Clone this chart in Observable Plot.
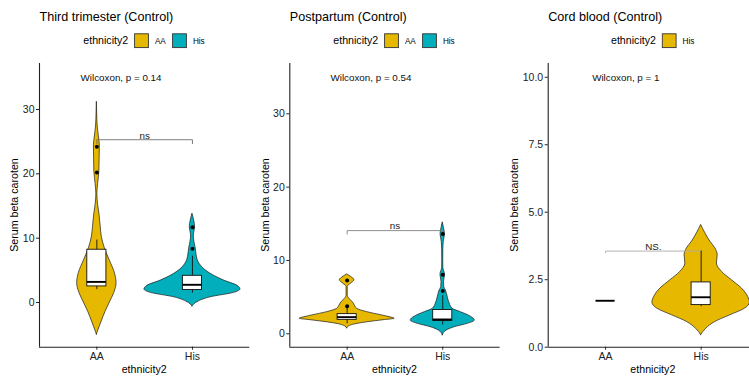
<!DOCTYPE html>
<html><head><meta charset="utf-8">
<script src="https://cdn.jsdelivr.net/npm/d3@7"></script>
<script src="https://cdn.jsdelivr.net/npm/@observablehq/plot@0.6"></script>
<style>
html,body{margin:0;padding:0;background:#fff;overflow:hidden}
#wrap{position:relative;width:749px;height:377px;overflow:hidden;font-family:"Liberation Sans",Arial,sans-serif}
.panel{position:absolute;top:0;height:377px}
.panel svg{max-width:none !important}
</style></head><body><div id="wrap"></div>
<script>
const FONT = '"Liberation Sans", Arial, sans-serif';
const categories = ["AA", "His"];
const yellow = "#E7B800", teal = "#00AFBB";
const titles = ["Third trimester (Control)", "Postpartum (Control)", "Cord blood (Control)"];
const legendTitle = "ethnicity2";
const axisTitleX = "ethnicity2";
const axisTitleY = "Serum beta caroten";

// violin profiles: y value and half-width (in category units)
const p1AA_y = [-5.0,-4.2,-3.1,-1.5,0.0,1.5,3.0,4.6,6.5,8.4,10.2,11.8,13.5,15.2,16.8,18.4,20.3,22.3,24.4,25.8,27.5,29.5,31.2];
const p1AA_w = [0,0.019,0.047,0.089,0.136,0.183,0.206,0.188,0.136,0.084,0.052,0.040,0.029,0.013,0.005,0.013,0.026,0.029,0.031,0.021,0.008,0.003,0];
const p1His_y = [-0.6,0.05,0.8,1.5,2.0,2.6,3.4,4.2,5.2,6.3,7.3,8.35,9.4,10.4,11.7,12.75,13.8];
const p1His_w = [0,0.052,0.188,0.436,0.502,0.471,0.332,0.220,0.122,0.063,0.044,0.035,0.021,0.014,0.028,0.018,0];
const p2AA_y = [0.75,1.0,1.25,1.55,1.85,2.05,2.25,2.5,2.95,3.4,3.85,4.3,4.75,5.2,6.4,6.8,7.3,7.8,8.1];
const p2AA_w = [0,0.02,0.07,0.2,0.38,0.497,0.45,0.366,0.21,0.105,0.08,0.06,0.024,0.006,0.006,0.037,0.076,0.037,0];
const p2His_y = [-0.2,0.45,0.9,1.36,1.8,2.5,2.97,3.4,4.1,5.0,5.9,6.36,7.05,8.05,9.0,10.0,11.5,12.5,13.6,14.4,15.2];
const p2His_w = [0,0.042,0.126,0.262,0.335,0.27,0.183,0.105,0.073,0.052,0.033,0.016,0.013,0.024,0.006,0.005,0.006,0.010,0.023,0.013,0];
const p3His_y = [0.45,0.68,0.93,1.18,1.43,1.65,1.86,2.17,2.48,2.79,3.1,3.41,3.66,3.91,4.22,4.53];
const p3His_w = [0,0.052,0.146,0.303,0.460,0.510,0.492,0.427,0.322,0.218,0.165,0.173,0.149,0.096,0.044,0];

// box stats [lo, q1, median, q3, hi]
const p1AA_box = [2.0, 2.5, 3.2, 8.2, 9.7];
const p1His_box = [1.45, 1.95, 2.75, 4.15, 7.2];
const p2AA_box = [1.36, 1.9, 2.27, 2.68, 3.5];
const p2His_box = [1.2, 1.75, 1.95, 3.25, 5.2];
const p3AA_box = [1.72, 1.72, 1.72, 1.72, 1.72];
const p3His_box = [1.5, 1.56, 1.85, 2.4, 3.56];

// outliers
const p1AA_out = [24.2, 20.2];
const p1His_out = [11.7, 8.35];
const p2AA_out = [7.27, 3.77];
const p2His_out = [13.6, 8.05, 5.85];

// annotations
const wilcoxLabels = ["Wilcoxon, p = 0.14", "Wilcoxon, p = 0.54", "Wilcoxon, p = 1"];
const wilcoxX = [0.83, 0.826, 0.86];
const wilcoxY = [34.87, 34.86, 9.96];
const bracketY = [25.3, 14.07, 3.56];
const bracketTip = [24.7, 13.6, 3.5];
const bracketLabels = ["ns", "ns", "NS."];
const bracketColors = ["#6e6e6e", "#808080", "#aaaaaa"];

const yTicks = [[0,10,20,30],[0,10,20,30],[0,2.5,5,7.5,10]];
const yDomains = [[-6.95, 37.15], [-1.83, 36.86], [0, 10.51]];

const panels = [
  {left: 0, width: 250, ml: 39, mr: 0.7, fmt: d => d,
   violins: [{g:"AA", y:p1AA_y, w:p1AA_w, fill:yellow}, {g:"His", y:p1His_y, w:p1His_w, fill:teal}],
   boxes: [{g:"AA", s:p1AA_box}, {g:"His", s:p1His_box}],
   outliers: [{g:"AA", v:p1AA_out}, {g:"His", v:p1His_out}],
   legend: [{label:"AA", fill:yellow}, {label:"His", fill:teal}], legendX: 83.3},
  {left: 250, width: 250, ml: 39.3, mr: 0.4, fmt: d => d,
   violins: [{g:"AA", y:p2AA_y, w:p2AA_w, fill:yellow}, {g:"His", y:p2His_y, w:p2His_w, fill:teal}],
   boxes: [{g:"AA", s:p2AA_box}, {g:"His", s:p2His_box}],
   outliers: [{g:"AA", v:p2AA_out}, {g:"His", v:p2His_out}],
   legend: [{label:"AA", fill:yellow}, {label:"His", fill:teal}], legendX: 333.3},
  {left: 500, width: 260, ml: 47.7, mr: 2, fmt: d3.format(".1f"),
   violins: [{g:"His", y:p3His_y, w:p3His_w, fill:yellow}],
   boxes: [{g:"AA", s:p3AA_box}, {g:"His", s:p3His_box}],
   outliers: [],
   legend: [{label:"His", fill:yellow}], legendX: 611}
];

const wrap = document.getElementById("wrap");
const cx = g => categories.indexOf(g) + 1;
const BW = 0.1; // box half width

panels.forEach((p, i) => {
  const marks = [];
  p.violins.forEach(vi => {
    const data = vi.y.map((v, k) => ({v, w: vi.w[k], c: cx(vi.g)}));
    marks.push(Plot.areaX(data, {y: "v", x1: d => d.c - d.w, x2: d => d.c + d.w,
      fill: vi.fill, stroke: "#1a1a1a", strokeWidth: 0.7, curve: "monotone-y"}));
  });
  // bracket
  const br = [{x:1, y:bracketTip[i]}, {x:1, y:bracketY[i]}, {x:2, y:bracketY[i]}, {x:2, y:bracketTip[i]}];
  marks.push(Plot.line(br, {x:"x", y:"y", stroke: bracketColors[i], strokeWidth: 0.9}));
  marks.push(Plot.text([bracketLabels[i]], {x: 1.5, y: bracketY[i], text: d => d, lineAnchor: "bottom",
    dy: -1.2, fontSize: 9.8, fill: "#222"}));
  // boxes
  const bd = p.boxes.map(b => ({c: cx(b.g), lo:b.s[0], q1:b.s[1], med:b.s[2], q3:b.s[3], hi:b.s[4]}));
  marks.push(Plot.ruleX(bd, {x: "c", y1: "lo", y2: "q1", stroke: "#111", strokeWidth: 0.9}));
  marks.push(Plot.ruleX(bd, {x: "c", y1: "q3", y2: "hi", stroke: "#111", strokeWidth: 0.9}));
  marks.push(Plot.rect(bd, {x1: d => d.c - BW, x2: d => d.c + BW, y1: "q1", y2: "q3",
    fill: "white", stroke: "#111", strokeWidth: 0.9}));
  marks.push(Plot.ruleY(bd, {y: "med", x1: d => d.c - BW, x2: d => d.c + BW, stroke: "#000", strokeWidth: 1.9}));
  // outliers
  const od = p.outliers.flatMap(o => o.v.map(v => ({c: cx(o.g), v})));
  marks.push(Plot.dot(od, {x: "c", y: "v", r: 2, fill: "#000", stroke: "none"}));
  // wilcoxon label
  marks.push(Plot.text([wilcoxLabels[i]], {x: wilcoxX[i], y: wilcoxY[i], text: d => d, textAnchor: "start",
    fontSize: 9.8, fill: "#111"}));
  // axis lines
  marks.push(Plot.ruleX([0.4], {stroke: "#222", strokeWidth: 1.1}));
  marks.push(Plot.ruleY([yDomains[i][0]], {stroke: "#222", strokeWidth: 1.1}));

  const svg = Plot.plot({
    width: p.width, height: 377,
    marginLeft: p.ml, marginRight: p.mr, marginTop: 63, marginBottom: 30.3,
    x: {domain: [0.4, 2.6], ticks: [1, 2], tickFormat: d => categories[d - 1], tickSize: 3, tickPadding: 2.5, label: null},
    y: {domain: yDomains[i], ticks: yTicks[i], tickFormat: p.fmt, tickSize: 3, tickPadding: 2, label: null},
    style: {fontFamily: FONT, fontSize: "10.5px", color: "#222", background: "transparent", overflow: "visible", maxWidth: "none"},
    marks
  });
  svg.style.maxWidth = "none";
  svg.style.width = p.width + "px";
  svg.style.height = "377px";
  const div = document.createElement("div");
  div.className = "panel";
  div.style.left = p.left + "px";
  div.style.width = p.width + "px";
  div.appendChild(svg);
  wrap.appendChild(div);
});

// overlay texts: titles, legends, axis titles
const ov = d3.select("#wrap").append("svg")
  .attr("width", 749).attr("height", 377)
  .style("position", "absolute").style("left", "0px").style("top", "0px")
  .style("font-family", FONT);

panels.forEach((p, i) => {
  const axisX = p.left + p.ml;
  const plotRight = p.left + p.width - p.mr;
  const midX = (axisX + plotRight) / 2;
  ov.append("text").attr("x", axisX + 0.5).attr("y", 20.5).attr("font-size", 12.6).attr("fill", "#000").text(titles[i]);
  // legend
  let lx = p.legendX;
  ov.append("text").attr("x", lx).attr("y", 43.6).attr("font-size", 10.65).attr("fill", "#000").text(legendTitle);
  let kx = lx + 51.3;
  p.legend.forEach(e => {
    ov.append("rect").attr("x", kx).attr("y", 33.8).attr("width", 13.8).attr("height", 13.8)
      .attr("fill", e.fill).attr("stroke", "#333").attr("stroke-width", 0.9);
    ov.append("text").attr("x", kx + 20.3).attr("y", 44).attr("font-size", 8.2).attr("fill", "#000").text(e.label);
    kx += 38;
  });
  // axis titles
  ov.append("text").attr("x", midX).attr("y", 373).attr("text-anchor", "middle").attr("font-size", 10.65).attr("fill", "#000").text(axisTitleX);
  const yl = axisX - (i === 2 ? 29.4 : 20.8);
  ov.append("text").attr("transform", `translate(${yl},205) rotate(-90)`).attr("text-anchor", "middle")
    .attr("font-size", 10.65).attr("fill", "#000").text(axisTitleY);
});
</script>
</body></html>
